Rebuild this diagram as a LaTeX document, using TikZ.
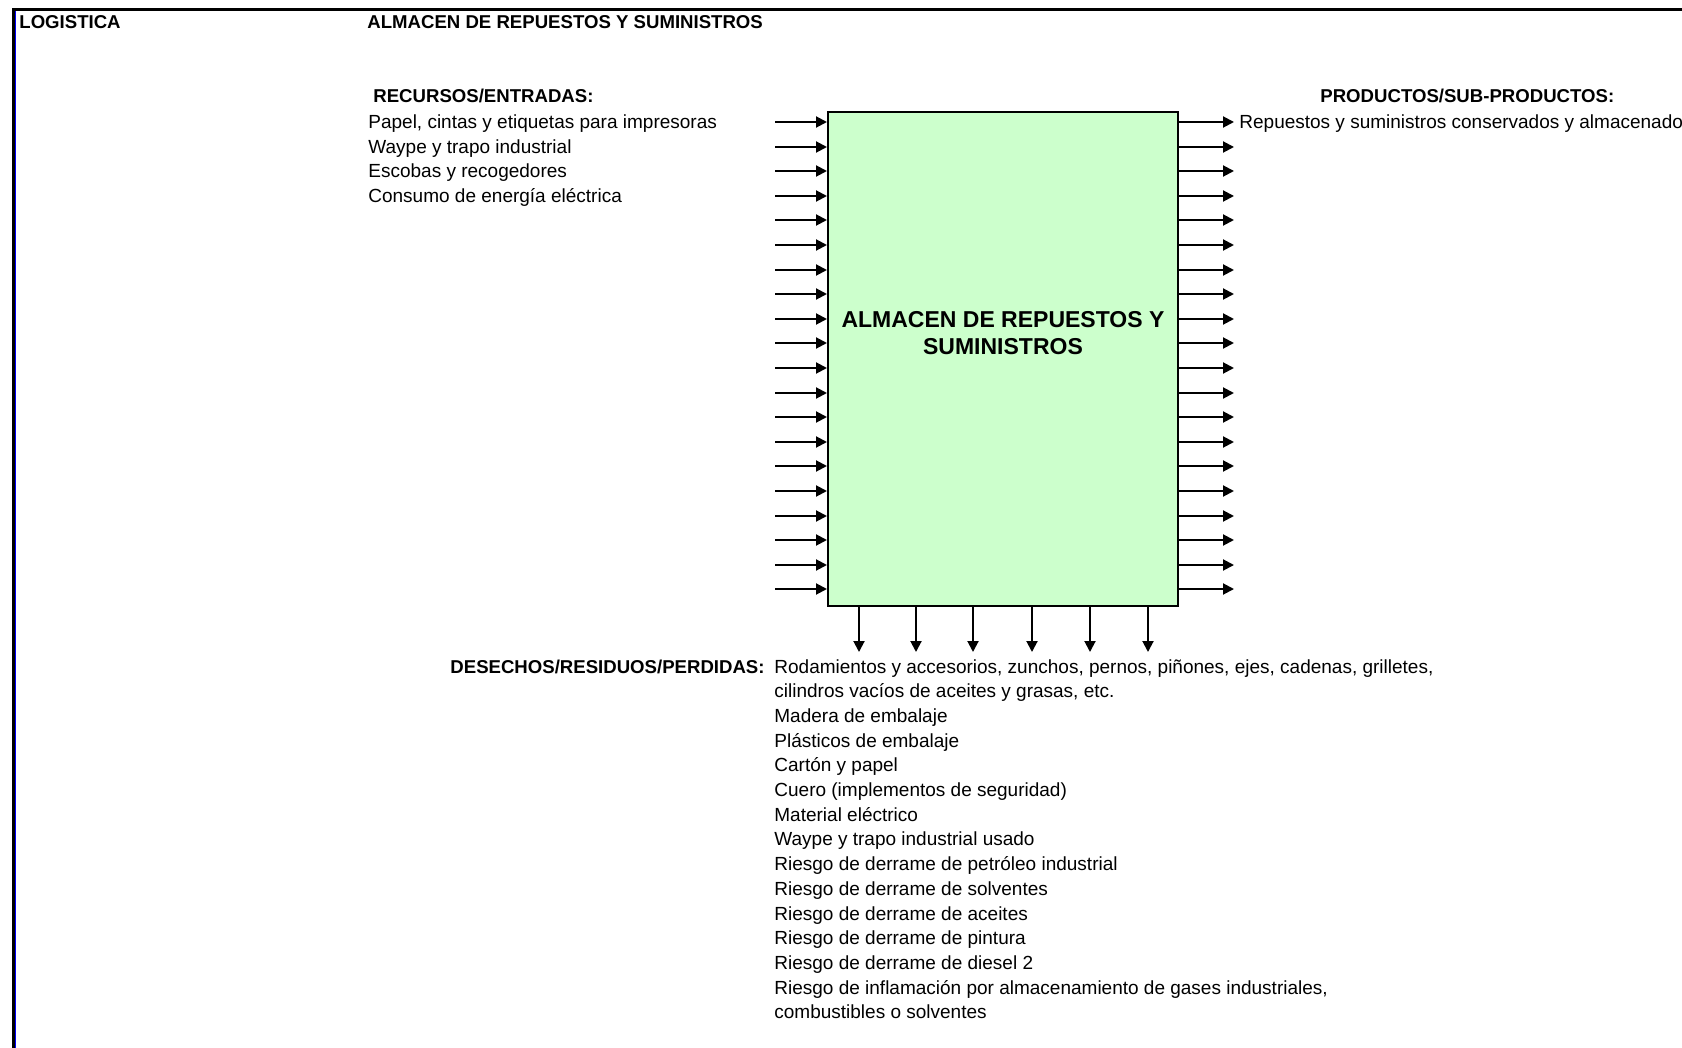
\documentclass[tikz,border=0pt]{standalone}
\usepackage{fontspec}
\setmainfont{Liberation Sans}
\usetikzlibrary{arrows.meta,positioning}
\definecolor{boxgreen}{RGB}{204,255,204}
\definecolor{edgeblue}{RGB}{0,0,255}

\tikzset{
  procbox/.style={draw=black, line width=1pt, fill=boxgreen, inner sep=0pt},
  flowarrow/.style={->, line width=1pt},
  headtext/.style={font=\fontsize{9.3}{11}\selectfont\bfseries, inner sep=0pt, anchor=base west},
  itemtext/.style={font=\fontsize{9.5}{11}\selectfont, inner sep=0pt, anchor=base west}
}

\begin{document}
\begin{tikzpicture}[x=0.5pt, y=-0.5pt, >={Triangle[length=5.5pt,width=5.5pt]}]

  \useasboundingbox (0,0) rectangle (1682,1048);

  % ---- sheet frame ----
  \draw[line width=1.5pt] (1682,9.5) -- (13,9.5) -- (13,1048);
  \draw[edgeblue, line width=0.8pt] (15.5,11) -- (15.5,1048);

  % ---- header ----
  \node[headtext] (area) at (19,29) {LOGISTICA};
  \node[headtext] (proc) at (367,29) {ALMACEN DE REPUESTOS Y SUMINISTROS};

  % ---- process box ----
  \node[procbox, minimum width=175pt, minimum height=247pt] (box) at (1003,359) {};
  \node[font=\fontsize{11.5}{13.5}\selectfont\bfseries, align=center] (boxtitle)
    at (1003,333) {ALMACEN DE REPUESTOS Y\\SUMINISTROS};

  % ---- inputs ----
  \node[headtext] (inhead) at (373,103) {RECURSOS/ENTRADAS:};
  \foreach \i/\txt in {0/{Papel, cintas y etiquetas para impresoras},
                       1/{Waype y trapo industrial},
                       2/{Escobas y recogedores},
                       3/{Consumo de energía eléctrica}} {
    \pgfmathsetmacro{\yb}{129 + \i*24.4}
    \node[itemtext] (input\i) at (368,\yb) {\txt};
  }
  \foreach \i in {0,...,19} {
    \pgfmathsetmacro{\yy}{round(122 + \i*24.6)}
    \coordinate (in\i) at (775,\yy);
    \draw[flowarrow] (in\i) -- (in\i -| box.west);
  }

  % ---- outputs ----
  \node[headtext] (outhead) at (1320,103) {PRODUCTOS/SUB-PRODUCTOS:};
  \node[itemtext] (output0) at (1239,129) {Repuestos y suministros conservados y almacenado};
  \foreach \i in {0,...,19} {
    \pgfmathsetmacro{\yy}{round(122 + \i*24.6)}
    \coordinate (out\i) at (1234,\yy);
    \draw[flowarrow] (out\i -| box.east) -- (out\i);
  }

  % ---- wastes ----
  \foreach \x [count=\k] in {859,916,973,1032,1090,1148} {
    \coordinate (waste\k) at (\x,652);
    \draw[flowarrow] (waste\k |- box.south) -- (waste\k);
  }
  \node[headtext, anchor=base east] (wastehead) at (765,673) {DESECHOS/RESIDUOS/PERDIDAS:};
  \foreach \i/\txt in {0/{Rodamientos y accesorios, zunchos, pernos, piñones, ejes, cadenas, grilletes,},
                       1/{cilindros vacíos de aceites y grasas, etc.},
                       2/{Madera de embalaje},
                       3/{Plásticos de embalaje},
                       4/{Cartón y papel},
                       5/{Cuero (implementos de seguridad)},
                       6/{Material eléctrico},
                       7/{Waype y trapo industrial usado},
                       8/{Riesgo de derrame de petróleo industrial},
                       9/{Riesgo de derrame de solventes},
                       10/{Riesgo de derrame de aceites},
                       11/{Riesgo de derrame de pintura},
                       12/{Riesgo de derrame de diesel 2},
                       13/{Riesgo de inflamación por almacenamiento de gases industriales,},
                       14/{combustibles o solventes}} {
    \pgfmathsetmacro{\yb}{673 + \i*24.7}
    \node[itemtext] (waste line\i) at (774,\yb) {\txt};
  }

\end{tikzpicture}
\end{document}
